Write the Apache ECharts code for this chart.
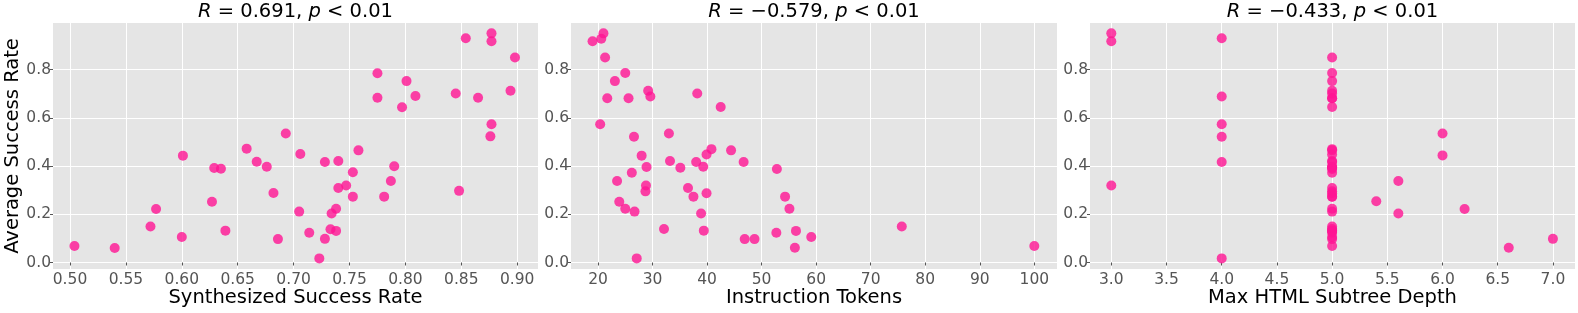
<!DOCTYPE html>
<html>
<head>
<meta charset="utf-8">
<script src="https://cdn.jsdelivr.net/npm/echarts@6/dist/echarts.min.js"></script>
<style>
html,body{margin:0;padding:0;background:#fff;}
#chart{width:1578px;height:313px;}
</style>
</head>
<body>
<div id="chart"></div>
<script>
// ---- Data ----
const synthRate = [0.504,0.540,0.572,0.577,0.601,0.600,0.629,0.635,0.627,0.639,0.658,0.667,0.676,0.682,0.686,
  0.693,0.706,0.728,0.740,0.758,0.753,0.747,0.740,0.753,0.705,0.738,0.734,0.714,0.733,0.738,0.728,0.723,
  0.775,0.775,0.801,0.809,0.797,0.790,0.787,0.781,0.848,0.854,0.877,0.877,0.898,0.845,0.865,0.894,0.877,0.876];
const synthAvg = [0.068,0.060,0.149,0.222,0.443,0.106,0.392,0.389,0.252,0.132,0.472,0.418,0.397,0.288,0.097,
  0.535,0.450,0.417,0.421,0.465,0.374,0.319,0.309,0.273,0.211,0.223,0.203,0.123,0.138,0.131,0.098,0.017,
  0.785,0.683,0.752,0.690,0.644,0.399,0.338,0.273,0.297,0.930,0.950,0.917,0.850,0.701,0.683,0.712,0.573,0.523];

const tokens = [19.0,20.6,21.0,21.3,23.1,25.0,21.7,25.6,29.2,29.6,38.2,42.5,20.4,26.6,33.0,28.0,28.9,26.2,33.2,35.1,
  38.0,39.3,39.9,40.8,44.4,46.7,52.8,23.5,28.8,28.7,36.5,37.5,39.9,23.9,25.0,26.7,38.9,32.1,39.4,46.9,48.7,52.7,
  27.1,54.3,55.1,56.3,56.1,59.1,75.7,100];
const tokensAvg = [0.917,0.928,0.950,0.850,0.752,0.786,0.681,0.681,0.712,0.688,0.701,0.645,0.573,0.521,0.535,0.443,
  0.396,0.372,0.421,0.393,0.417,0.397,0.448,0.470,0.465,0.417,0.388,0.338,0.319,0.295,0.309,0.273,0.287,0.252,
  0.223,0.211,0.203,0.139,0.132,0.097,0.097,0.123,0.017,0.273,0.223,0.131,0.061,0.106,0.149,0.068];

const depth = [3,3,3,4,4,4,4,4,4,6,6,5.6,5.4,5.6,6.2,7,6.6,
  5,5,5,5,5,5,5,5,5,5,5,5,5,5,5,5,5,5,5,5,5,5,5,5,5,5,5,5,5,5,5,5,5];
const depthAvg = [0.950,0.917,0.319,0.930,0.688,0.573,0.521,0.417,0.017,0.535,0.444,0.338,0.254,0.203,0.222,0.098,0.061,
  0.850,0.752,0.786,0.681,0.681,0.712,0.701,0.645,0.396,0.372,0.421,0.393,0.397,0.448,0.470,0.465,0.417,0.388,
  0.295,0.309,0.273,0.287,0.211,0.139,0.132,0.097,0.123,0.273,0.223,0.131,0.106,0.149,0.068];

const yTicks = [0.0,0.2,0.4,0.6,0.8];
const x1Ticks = [0.50,0.55,0.60,0.65,0.70,0.75,0.80,0.85,0.90];
const x2Ticks = [20,30,40,50,60,70,80,90,100];
const x3Ticks = [3.0,3.5,4.0,4.5,5.0,5.5,6.0,6.5,7.0];

const titleR = ['0.691','\u22120.579','\u22120.433'];
const xNames = ['Synthesized Success Rate','Instruction Tokens','Max HTML Subtree Depth'];
const yName = 'Average Success Rate';

// ---- Layout ----
const grids = [
  {left:53, top:23, width:485, height:246},
  {left:571, top:23, width:486, height:246},
  {left:1090, top:23, width:485, height:246}
];
const xRanges = [[0.4848,0.9186],[15.05,104.16],[2.807,7.2]];
const xTickSets = [x1Ticks,x2Ticks,x3Ticks];
const xFmt = [v=>v.toFixed(2), v=>String(Math.round(v)), v=>v.toFixed(1)];
const seriesData = [
  synthRate.map((x,i)=>[x,synthAvg[i]]),
  tokens.map((x,i)=>[x,tokensAvg[i]]),
  depth.map((x,i)=>[x,depthAvg[i]])
];

const FONT = 'DejaVu Sans';
const tickColor = '#555555';

const option = {
  animation:false,
  backgroundColor:'#ffffff',
  textStyle:{fontFamily:FONT},
  grid: grids.map(g=>Object.assign({show:true, backgroundColor:'#e5e5e5', borderWidth:0, containLabel:false, outerBoundsMode:'none'}, g)),
  title: grids.map((g,i)=>({
    text:'{i|R} = ' + titleR[i] + ', {i|p} < 0.01',
    left: g.left + g.width/2,
    textAlign:'center',
    top: 2,
    padding:0,
    textStyle:{
      fontFamily:FONT, fontSize:19.5, fontWeight:'normal', color:'#000',
      rich:{ i:{fontFamily:FONT, fontSize:19.5, fontStyle:'italic', color:'#000'} }
    }
  })),
  xAxis: grids.map((g,i)=>({
    type:'value', gridIndex:i, min:xRanges[i][0], max:xRanges[i][1],
    name:xNames[i], nameLocation:'middle', nameGap:19, nameMoveOverlap:false,
    nameTextStyle:{fontFamily:FONT, fontSize:19.5, color:'#000'},
    axisLine:{show:false},
    axisTick:{show:true, length:3, customValues:xTickSets[i], lineStyle:{color:tickColor, width:1}},
    axisLabel:{customValues:xTickSets[i], formatter:xFmt[i], fontFamily:FONT, fontSize:15.5, color:tickColor, margin:2.5},
    splitLine:{show:true, lineStyle:{color:'#ffffff', width:1}}
  })),
  yAxis: grids.map((g,i)=>({
    type:'value', gridIndex:i, min:-0.027, max:0.993,
    name: i===0 ? yName : '', nameLocation:'middle', nameGap:30, nameMoveOverlap:false,
    nameTextStyle:{fontFamily:FONT, fontSize:19.5, color:'#000'},
    axisLine:{show:false},
    axisTick:{show:true, length:3, customValues:yTicks, lineStyle:{color:tickColor, width:1}},
    axisLabel:{customValues:yTicks, formatter:v=>v.toFixed(1), fontFamily:FONT, fontSize:15.5, color:tickColor, margin:2},
    splitLine:{show:true, lineStyle:{color:'#ffffff', width:1}}
  })),
  series: seriesData.map((d,i)=>({
    type:'scatter', xAxisIndex:i, yAxisIndex:i, data:d,
    symbol:'circle', symbolSize:10,
    itemStyle:{color:'#ff1493', opacity:0.8},
    emphasis:{disabled:true}
  }))
};

const chart = echarts.init(document.getElementById('chart'), null, {renderer:'canvas'});
chart.setOption(option);
</script>
</body>
</html>
